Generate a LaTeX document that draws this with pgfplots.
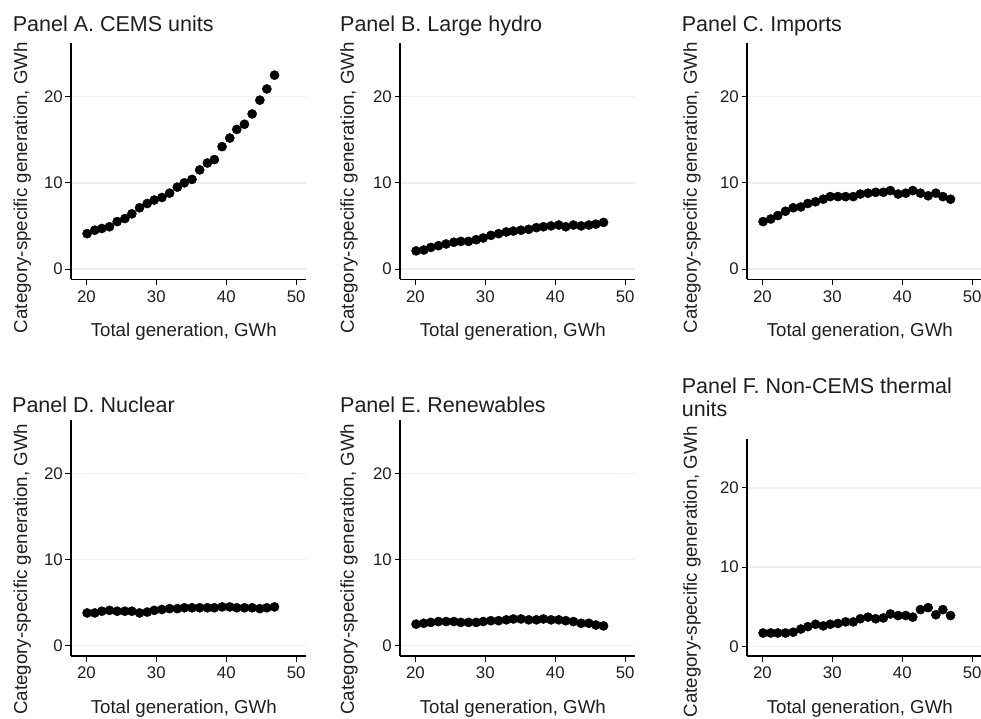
\documentclass[border=0pt]{standalone}
\usepackage{fontspec}
\setmainfont{Liberation Sans}
\usepackage{pgfplots}
\usepackage{pgfplotstable}
\pgfplotsset{compat=1.18}
\definecolor{txt}{RGB}{30,30,30}
\definecolor{gridc}{RGB}{233,239,239}

\pgfplotstableread{
x    a    b   c   d   e    f
20.1 4.1  2.1 5.5 3.8 2.5  1.7
21.2 4.5  2.2 5.8 3.8 2.6  1.7
22.2 4.7  2.5 6.2 4.0 2.7  1.7
23.3 4.9  2.7 6.7 4.1 2.8  1.7
24.4 5.5  2.9 7.1 4.0 2.8  1.8
25.5 5.85 3.1 7.2 4.0 2.8  2.2
26.5 6.4  3.2 7.6 4.0 2.7  2.5
27.6 7.1  3.2 7.8 3.8 2.7  2.8
28.7 7.6  3.4 8.1 3.9 2.7  2.6
29.7 8.0  3.6 8.4 4.1 2.8  2.8
30.8 8.3  3.9 8.4 4.2 2.9  2.9
31.9 8.8  4.1 8.4 4.3 2.9  3.1
33.0 9.5  4.3 8.4 4.3 3.0  3.1
34.0 10.0 4.4 8.7 4.4 3.1  3.5
35.1 10.4 4.5 8.8 4.4 3.1  3.7
36.2 11.5 4.6 8.9 4.4 3.0  3.5
37.3 12.3 4.8 8.9 4.4 3.0  3.6
38.3 12.7 4.9 9.1 4.4 3.1  4.1
39.4 14.2 5.0 8.7 4.5 3.0  3.9
40.5 15.2 5.1 8.8 4.5 3.0  3.9
41.5 16.2 4.9 9.1 4.4 2.9  3.7
42.6 16.8 5.1 8.8 4.4 2.8  4.65
43.7 18.0 5.0 8.5 4.4 2.6  4.9
44.8 19.6 5.1 8.8 4.3 2.6  4.0
45.8 20.9 5.2 8.4 4.4 2.4  4.65
46.9 22.5 5.4 8.1 4.5 2.3  3.9
}\data

\pgfplotsset{
  panel/.style={
    scale only axis, width=235bp, height=236bp,
    xmin=17.8, xmax=51.4, ymin=-1.2, ymax=26.2,
    axis x line*=bottom, axis y line*=left,
    axis line style={-, line width=1.1bp, black},
    xtick={20,30,40,50}, ytick={0,10,20},
    tick align=outside, major tick length=5.5bp,
    tick style={line width=0.9bp, black},
    ymajorgrids, major grid style={gridc, line width=1.4bp},
    /pgf/number format/assume math mode=true,
    tick label style={font=\fontsize{16.8bp}{19bp}\selectfont, text=txt, inner sep=0pt},
    yticklabel style={xshift=-2.5bp},
    xticklabel style={yshift=-5.5bp},
    label style={font=\fontsize{18.7bp}{22bp}\selectfont, text=txt, inner sep=0pt},
    xlabel={Total generation, GWh},
    ylabel={Category-specific generation, GWh},
    xlabel style={at={(axis description cs:0.48,0)}, anchor=base, yshift=-57bp},
    every axis title/.style={at={(axis description cs:0,1)}, anchor=base west,
      font=\fontsize{21.5bp}{23.4bp}\selectfont, text=txt, inner sep=0pt},
  },
  dots/.style={only marks, mark=*, mark size=4.6bp, black, mark options={fill=black, draw=black}},
}

\begin{document}
\begin{tikzpicture}
\useasboundingbox (0,0) rectangle (981bp,-719bp);

% Panel A
\begin{axis}[panel, at={(71bp,-279.3bp)}, anchor=south west,
  title={Panel A. CEMS units}, title style={xshift=-58.3bp, yshift=11.8bp},
  ylabel style={at={(axis description cs:-0.187,0.389)}, anchor=base}]
\addplot[dots] table[x=x, y=a] {\data};
\end{axis}

% Panel B
\begin{axis}[panel, at={(400bp,-279.3bp)}, anchor=south west,
  title={Panel B. Large hydro}, title style={xshift=-60bp, yshift=11.8bp},
  ylabel style={at={(axis description cs:-0.196,0.389)}, anchor=base}]
\addplot[dots] table[x=x, y=b] {\data};
\end{axis}

% Panel C
\begin{axis}[panel, at={(747bp,-279.3bp)}, anchor=south west,
  title={Panel C. Imports}, title style={xshift=-65.3bp, yshift=11.8bp},
  ylabel style={at={(axis description cs:-0.213,0.389)}, anchor=base}]
\addplot[dots] table[x=x, y=c] {\data};
\end{axis}

% Panel D
\begin{axis}[panel, at={(71bp,-656bp)}, anchor=south west,
  title={Panel D. Nuclear}, title style={xshift=-59bp, yshift=8bp},
  ylabel style={at={(axis description cs:-0.187,0.368)}, anchor=base}]
\addplot[dots] table[x=x, y=d] {\data};
\end{axis}

% Panel E
\begin{axis}[panel, at={(400bp,-656bp)}, anchor=south west,
  title={Panel E. Renewables}, title style={xshift=-60bp, yshift=8bp},
  ylabel style={at={(axis description cs:-0.196,0.368)}, anchor=base}]
\addplot[dots] table[x=x, y=e] {\data};
\end{axis}

% Panel F
\begin{axis}[panel, height=217.3bp, at={(747bp,-656bp)}, anchor=south west,
  title={Panel F. Non-CEMS thermal\\units}, title style={align=left, xshift=-65.3bp, yshift=22bp},
  ylabel style={at={(axis description cs:-0.213,0.387)}, anchor=base}]
\addplot[dots] table[x=x, y=f] {\data};
\end{axis}
\end{tikzpicture}
\end{document}
